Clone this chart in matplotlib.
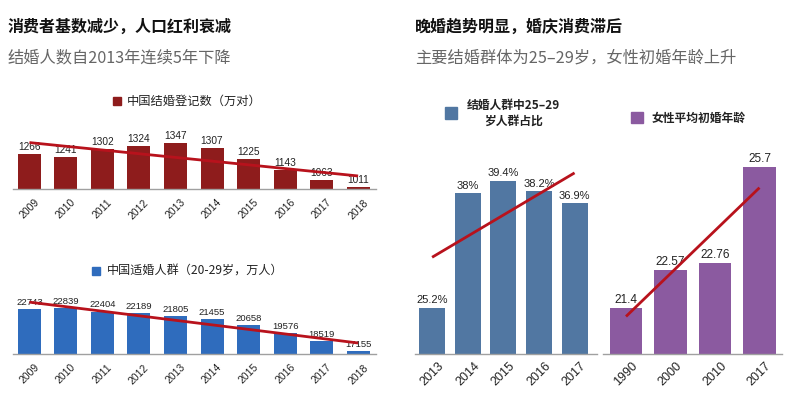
import numpy as np
import matplotlib
matplotlib.use("Agg")
import matplotlib.pyplot as plt
from matplotlib.patches import Rectangle

plt.rcParams['font.family'] = ['Liberation Sans', 'Noto Sans CJK SC', 'DejaVu Sans']
CJK = ['Noto Sans CJK SC', 'DejaVu Sans']

# ---------------- data ----------------
years_reg = ['2009', '2010', '2011', '2012', '2013', '2014', '2015', '2016', '2017', '2018']
marriage_reg = [1266, 1241, 1302, 1324, 1347, 1307, 1225, 1143, 1063, 1011]

years_pop = ['2009', '2010', '2011', '2012', '2013', '2014', '2015', '2016', '2017', '2018']
pop_20_29 = [22743, 22839, 22404, 22189, 21805, 21455, 20658, 19576, 18519, 17155]

years_share = ['2013', '2014', '2015', '2016', '2017']
share_25_29 = [25.2, 38.0, 39.4, 38.2, 36.9]
share_labels = ['25.2%', '38%', '39.4%', '38.2%', '36.9%']

years_age = ['1990', '2000', '2010', '2017']
female_age = [21.4, 22.57, 22.76, 25.7]
age_labels = ['21.4', '22.57', '22.76', '25.7']

title_left = '消费者基数减少，人口红利衰减'
sub_left = '结婚人数自2013年连续5年下降'
title_right = '晚婚趋势明显，婚庆消费滞后'
sub_right = '主要结婚群体为25–29岁，女性初婚年龄上升'
leg_reg = '中国结婚登记数（万对）'
leg_pop = '中国适婚人群（20-29岁，万人）'
leg_share = '结婚人群中25–29\n岁人群占比'
leg_age = '女性平均初婚年龄'

# colours
C_RED = '#8e1c1c'
C_BLUE = '#2f6cbd'
C_STEEL = '#5177a2'
C_PURPLE = '#8b5aa0'
C_TREND = '#b8121c'

W, H = 794, 393
fig = plt.figure(figsize=(W / 100, H / 100), dpi=100)


def ax_px(x0, x1, ytop, ybot):
    return fig.add_axes([x0 / W, 1 - ybot / H, (x1 - x0) / W, (ybot - ytop) / H])


def fx(x):
    return x / W


def fy(y):
    return 1 - y / H


def panel(ax, labels, values, texts, color, width, xlim, ylim, tick_fs, val_fs, pad):
    x = np.arange(len(values))
    ax.bar(x, np.array(values) - ylim[0], bottom=ylim[0], width=width, color=color, zorder=2)
    coef = np.polyfit(x, values, 1)
    ax.plot([x[0], x[-1]], np.polyval(coef, [x[0], x[-1]]), color=C_TREND, lw=2, zorder=4,
            solid_capstyle='butt', clip_on=False)
    for xi, v, t in zip(x, values, texts):
        ax.annotate(t, (xi, v), xytext=(0, 1.5), textcoords='offset points', ha='center', va='bottom',
                    fontsize=val_fs, color='#222222', zorder=3, annotation_clip=False)
    ax.set_xlim(*xlim)
    ax.set_ylim(*ylim)
    ax.set_xticks(x)
    ax.set_xticklabels(labels, rotation=45, ha='center', va='top', fontsize=tick_fs, color='#222222')
    ax.tick_params(axis='x', length=0, pad=pad)
    ax.set_yticks([])
    for s in ['top', 'left', 'right']:
        ax.spines[s].set_visible(False)
    ax.spines['bottom'].set_color('#a0a0a0')
    ax.spines['bottom'].set_linewidth(1)
    ax.patch.set_alpha(0)


# top-left
ax1 = ax_px(13, 376, 135, 189)
panel(ax1, years_reg, marriage_reg, [str(v) for v in marriage_reg], C_RED, 0.63,
      (-0.45, 9.49), (996, 996 + 54 / 0.131), 7.5, 7.3, 6)

# bottom-left
ax2 = ax_px(13, 376, 300, 354)
panel(ax2, years_pop, pop_20_29, [str(v) for v in pop_20_29], C_BLUE, 0.63,
      (-0.45, 9.49), (16756, 16756 + 54 / 0.00752), 7.5, 6.8, 6)

# right blue
ax3 = ax_px(415, 597, 160, 354)
panel(ax3, years_share, share_25_29, share_labels, C_STEEL, 0.73,
      (-0.48, 4.63), (20, 20 + 194 / 8.94), 9, 8, 4)

# right purple
ax4 = ax_px(603, 782, 160, 354)
panel(ax4, years_age, female_age, age_labels, C_PURPLE, 0.72,
      (-0.517, 3.506), (20, 20 + 194 / 32.8), 9, 8.5, 4)

# titles
fig.text(fx(8), fy(27), title_left, fontsize=11.5, fontweight='bold', family=CJK,
         va='center', ha='left', color='#111111')
fig.text(fx(8), fy(58), sub_left, fontsize=11.7, family=CJK, va='center', ha='left', color='#666666')
fig.text(fx(415), fy(27), title_right, fontsize=11.5, fontweight='bold', family=CJK,
         va='center', ha='left', color='#111111')
fig.text(fx(415), fy(58), sub_right, fontsize=11.7, family=CJK, va='center', ha='left', color='#666666')


def legend_box(x0, y0, w, h, color):
    fig.patches.append(Rectangle((fx(x0), fy(y0 + h)), w / W, h / H, transform=fig.transFigure,
                                 color=color, zorder=5))


legend_box(113, 97, 8, 8, C_RED)
fig.text(fx(127), fy(101), leg_reg, fontsize=8.8, family=CJK, fontweight='medium',
         va='center', ha='left', color='#222222')
legend_box(92, 267, 8, 8, C_BLUE)
fig.text(fx(107), fy(271), leg_pop, fontsize=8.7, family=CJK, fontweight='medium',
         va='center', ha='left', color='#222222')
legend_box(445, 107, 12, 12, C_STEEL)
fig.text(fx(513), fy(113.5), leg_share, fontsize=8.5, family=CJK, fontweight='bold',
         va='center', ha='center', color='#222222', linespacing=1.3)
legend_box(631, 112, 12, 11, C_PURPLE)
fig.text(fx(652), fy(118), leg_age, fontsize=8.5, family=CJK, fontweight='bold',
         va='center', ha='left', color='#222222')

fig.savefig('out.png', dpi=100)
